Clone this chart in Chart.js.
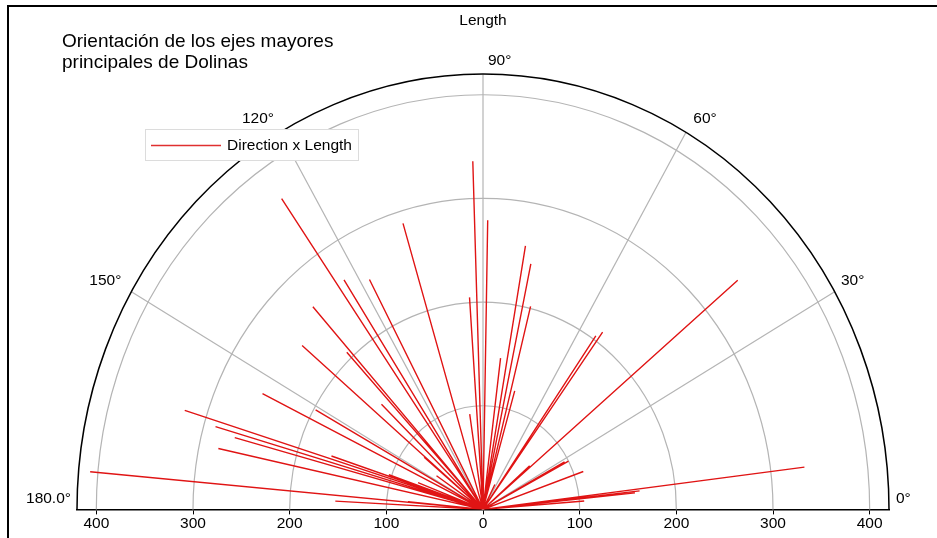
<!DOCTYPE html>
<html>
<head>
<meta charset="utf-8">
<script src="https://cdn.jsdelivr.net/npm/chart.js@4/dist/chart.umd.min.js"></script>
<style>
  html, body { margin: 0; padding: 0; background: #fff; }
  #wrap { width: 937px; height: 538px; position: relative; }
</style>
</head>
<body>
<div id="wrap"><canvas id="rose"></canvas></div>
<script>
// Dolinas: direction (deg) and length of each principal axis
const directions = [4.4, 5.8, 6.3, 7.0, 19.4, 27.8, 28.5, 40.0, 41.0, 54.1, 55.1, 63.0,
  74.0, 75.9, 78.2, 80.2, 82.9, 89.0, 91.8, 93.9, 98.5, 106.7, 117.9, 123.0, 124.8,
  132.0, 132.9, 136.0, 139.8, 140.4, 146.0, 151.0, 153.9, 159.0, 161.0, 161.8, 162.8,
  163.9, 164.9, 167.9, 174.6, 174.9, 177.0];
const lengths = [105, 158, 163, 335, 110, 100, 96, 344, 64, 211, 204, 27,
  119, 202, 242, 258, 147, 279, 336, 205, 93, 288, 251, 264, 365,
  263, 207, 146, 245, 79, 58, 198, 254, 72, 103, 165, 323,
  288, 266, 280, 78, 408, 153];

const xTicks = [-400, -300, -200, -100, 0, 100, 200, 300, 400];
const ringRadii = [100, 200, 300, 400];
const spokeAngles = [30, 60, 90, 120, 150];
const angleLabels = ['0°', '30°', '60°', '90°', '120°', '150°', '180.0°'];
const labelAngles = [0, 30, 60, 90, 120, 150, 180];
const maxRadius = 420;

const FONT = '"Liberation Sans", Arial, sans-serif';

// segments origin -> tip, separated by gaps
const segments = [];
directions.forEach((deg, i) => {
  const a = deg * Math.PI / 180;
  const ex = lengths[i] * Math.cos(a);
  const ey = lengths[i] * Math.sin(a);
  segments.push({ x: 0, y: 0 }, { x: ex, y: ey }, { x: ex, y: null });
});

const polarFrame = {
  id: 'polarFrame',
  beforeDatasetsDraw(chart) {
    const { ctx, scales: { x, y } } = chart;
    const cx = x.getPixelForValue(0), cy = y.getPixelForValue(0);
    ctx.save();
    ctx.strokeStyle = '#b4b4b4';
    ctx.lineWidth = 1.2;
    ringRadii.forEach(r => {
      const rx = x.getPixelForValue(r) - cx, ry = cy - y.getPixelForValue(r);
      ctx.beginPath();
      ctx.ellipse(cx, cy, rx, ry, 0, Math.PI, 2 * Math.PI);
      ctx.stroke();
    });
    spokeAngles.forEach(deg => {
      const a = deg * Math.PI / 180;
      ctx.beginPath();
      ctx.moveTo(cx, cy);
      ctx.lineTo(x.getPixelForValue(maxRadius * Math.cos(a)), y.getPixelForValue(maxRadius * Math.sin(a)));
      ctx.stroke();
    });
    // outer boundary
    const Rx = x.getPixelForValue(maxRadius) - cx, Ry = cy - y.getPixelForValue(maxRadius);
    ctx.strokeStyle = '#000';
    ctx.lineWidth = 1.5;
    ctx.beginPath();
    ctx.ellipse(cx, cy, Rx, Ry, 0, Math.PI, 2 * Math.PI);
    ctx.stroke();
    ctx.restore();
  },
  afterDraw(chart) {
    const { ctx, scales: { x, y } } = chart;
    ctx.save();
    ctx.fillStyle = '#000';
    ctx.font = '15.5px ' + FONT;
    ctx.textBaseline = 'middle';
    // angle labels just outside the arc
    const offs = {
      0: [7, -11, 'left'], 30: [18, -11, 'center'], 60: [19, -14, 'center'],
      90: [5, -13, 'left'], 120: [-22, -14, 'center'], 150: [-26, -11, 'center'],
      180: [-6, -11, 'right'],
    };
    labelAngles.forEach((deg, i) => {
      const a = deg * Math.PI / 180;
      const px = x.getPixelForValue(maxRadius * Math.cos(a));
      const py = y.getPixelForValue(maxRadius * Math.sin(a));
      const o = offs[deg];
      ctx.textAlign = o[2];
      ctx.fillText(angleLabels[i], px + o[0], py + o[1]);
    });

    ctx.textAlign = 'center';
    ctx.fillText('Length', x.getPixelForValue(0), 21);

    ctx.textAlign = 'left';
    ctx.font = '19px ' + FONT;
    ctx.fillText('Orientación de los ejes mayores', 62, 42);
    ctx.fillText('principales de Dolinas', 62, 63);

    // legend
    ctx.fillStyle = '#fff';
    ctx.fillRect(145, 129.5, 213, 31);
    ctx.strokeStyle = '#dcdcdc';
    ctx.lineWidth = 1;
    ctx.strokeRect(145.5, 129.5, 213, 31);
    ctx.strokeStyle = '#e03030';
    ctx.lineWidth = 1.5;
    ctx.beginPath();
    ctx.moveTo(151, 145.5);
    ctx.lineTo(221, 145.5);
    ctx.stroke();
    ctx.fillStyle = '#000';
    ctx.font = '15.5px ' + FONT;
    ctx.fillText('Direction x Length', 227, 145.5);

    // frame (left + top)
    ctx.fillRect(7, 5, 2, 533);
    ctx.fillRect(7, 5, 930, 2);
    ctx.restore();
  }
};

new Chart(document.getElementById('rose'), {
  type: 'scatter',
  data: {
    datasets: [{
      label: 'Direction x Length',
      data: segments,
      showLine: true,
      spanGaps: false,
      borderColor: '#e01414',
      borderWidth: 1.4,
      pointRadius: 0,
      pointHoverRadius: 0,
    }],
  },
  options: {
    responsive: true,
    maintainAspectRatio: false,
    animation: false,
    devicePixelRatio: 1,
    layout: { padding: { left: 77, right: 48, top: 74, bottom: 5 } },
    plugins: {
      legend: { display: false },
      tooltip: { enabled: false },
    },
    scales: {
      x: {
        type: 'linear',
        min: -maxRadius,
        max: maxRadius,
        afterBuildTicks: scale => { scale.ticks = xTicks.map(v => ({ value: v })); },
        grid: { drawOnChartArea: false, drawTicks: true, tickLength: 5, color: '#000' },
        border: { color: '#000', width: 1.5 },
        ticks: {
          color: '#000',
          padding: 0,
          maxRotation: 0,
          autoSkip: false,
          font: { size: 15.5, family: FONT },
          callback: v => Math.abs(v),
        },
      },
      y: {
        type: 'linear',
        min: 0,
        max: maxRadius,
        display: false,
      },
    },
  },
  plugins: [polarFrame],
});
</script>
</body>
</html>
